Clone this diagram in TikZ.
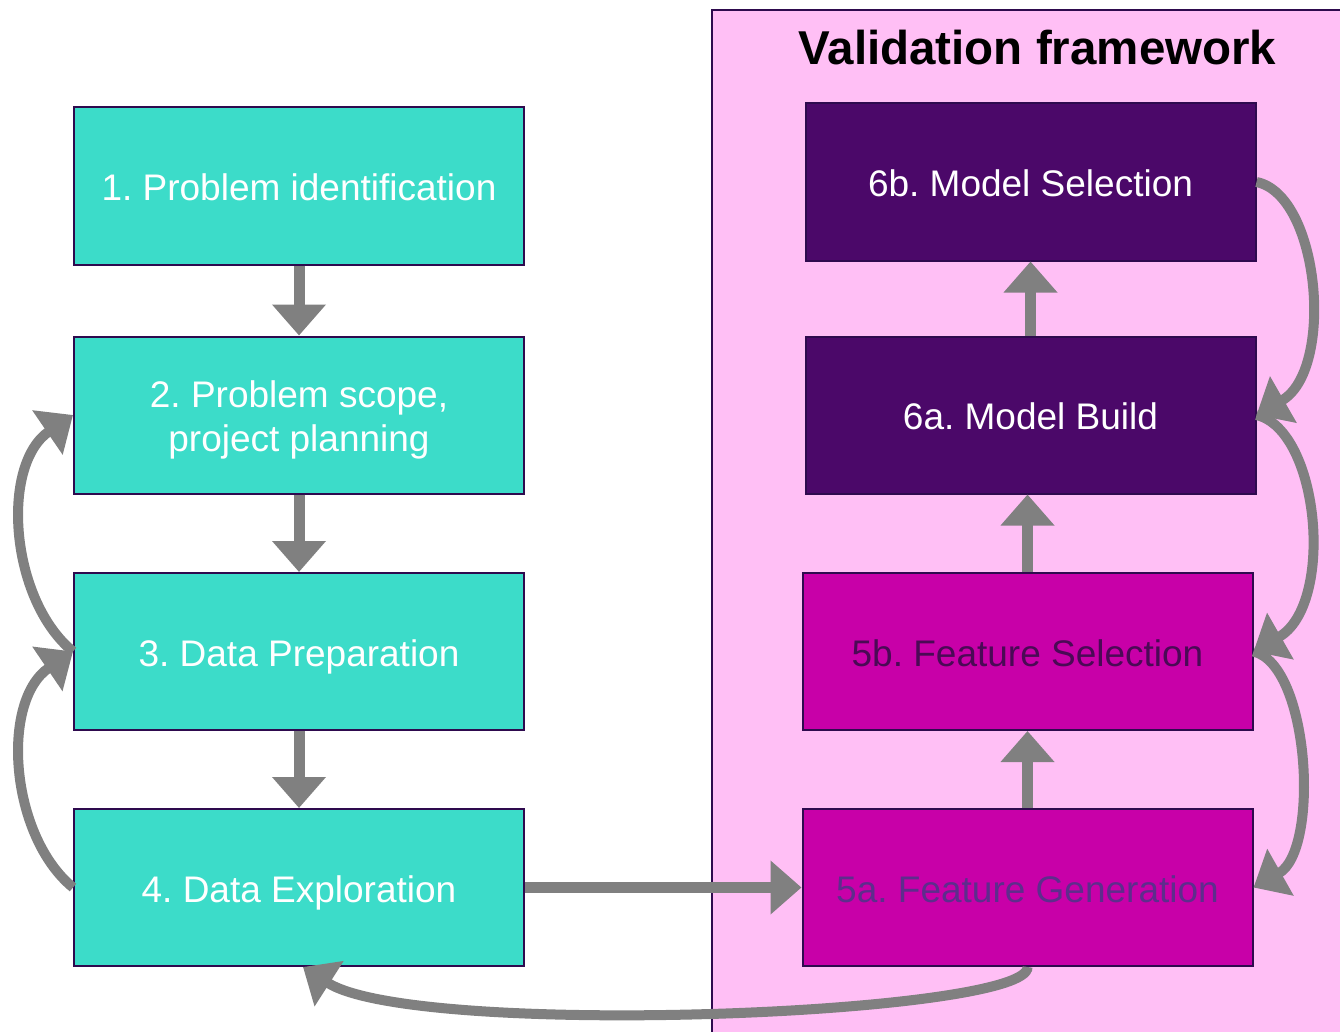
\documentclass[tikz,border=0pt]{standalone}
\usepackage{fontspec}
\setmainfont{Liberation Sans}
\usetikzlibrary{arrows.meta}
\frenchspacing
\definecolor{teal}{RGB}{60,220,201}
\definecolor{edge}{RGB}{46,10,78}
\definecolor{plum}{RGB}{75,8,105}
\definecolor{magenta}{RGB}{200,0,168}
\definecolor{panel}{RGB}{255,191,245}
\definecolor{flow}{RGB}{128,128,128}
\definecolor{darktext}{RGB}{74,10,85}
\definecolor{midtext}{RGB}{94,45,140}
\tikzset{
  stage/.style={rectangle, draw=edge, line width=2pt, minimum width=450pt,
    minimum height=157pt, inner sep=0pt, align=center,
    text height=37.5pt, text depth=7.8pt,
    font=\fontsize{37}{44}\selectfont},
  prep/.style={stage, fill=teal, text=white},
  model/.style={stage, fill=plum, text=white},
  feat/.style={stage, fill=magenta},
  flowarrow/.style={draw=flow, line width=11pt,
    -{Triangle[width=52pt,length=31pt]}},
  loop/.style={draw=flow, line width=10pt,
    -{Triangle[width=52pt,length=31pt]}}
}
\begin{document}
\begin{tikzpicture}[x=1pt,y=-1pt]
\useasboundingbox (0,0) rectangle (1340,1032);
\clip (0,0) rectangle (1340,1032);
\fill[white] (0,0) rectangle (1340,1032);

% validation framework panel
\draw[fill=panel, draw=edge, line width=2pt] (712,10) rectangle (1360,1050);
\node[font=\bfseries\fontsize{47.5}{57}\selectfont] (title) at (1037.5,48) {Validation framework};

% left column
\node[prep] (s1) at (299,186) {1. Problem identification};
\node[prep, text height=81.5pt] (s2) at (299,415) {2. Problem scope,\\project planning};
\node[prep] (s3) at (299,651.5) {3. Data Preparation};
\node[prep] (s4) at (299,887.5) {4. Data Exploration};

% right column
\node[model] (m6b) at (1030.5,182) {6b. Model Selection};
\node[model] (m6a) at (1030.5,415) {6a. Model Build};
\node[feat, text=darktext] (f5b) at (1027.5,651.5) {5b. Feature Selection};
\node[feat, text=midtext] (f5a) at (1027.5,887.5) {5a. Feature Generation};

% main flow
\draw[flowarrow] (s1.south) -- (s2.north);
\draw[flowarrow] (s2.south) -- (s3.north);
\draw[flowarrow] (s3.south) -- (s4.north);
\draw[flowarrow] (s4.east) -- (f5a.west);
\draw[flowarrow] (f5a.north) -- (f5b.south);
\draw[flowarrow] (f5b.north) -- (f5b.north |- m6a.south);
\draw[flowarrow] (m6a.north) -- (m6b.south);

% feedback loops, left
\draw[loop] (s3.west) .. controls (10,600) and (0,465) .. (s2.west);
\draw[loop] (s4.west) .. controls (10,836) and (0,701) .. (s3.west);

% feedback loops, right
\draw[loop] (m6b.east) .. controls (1320,195) and (1335,370) .. (m6a.east);
\draw[loop] (m6a.east) .. controls (1320,430) and (1335,605) .. (f5b.east);
\draw[loop] (f5b.east) .. controls (1310,665) and (1320,850) .. (f5a.east);

% return to exploration
\coordinate (back) at (303,967);
\draw[loop] (f5a.south) .. controls (1030,1015) and (415.5,1039) .. (back);
\end{tikzpicture}
\end{document}
